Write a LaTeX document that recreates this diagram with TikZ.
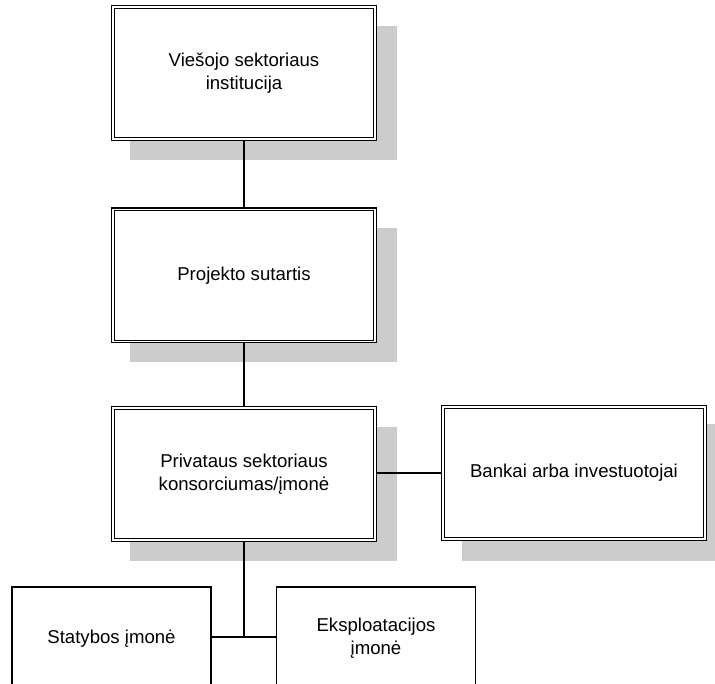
\documentclass[tikz,border=0pt]{standalone}
\usepackage{fontspec}
\setmainfont{Liberation Sans}
\begin{document}
\begin{tikzpicture}[x=1pt,y=-1pt,
  dbox/.style={draw=black, line width=1.2pt,
    fill=white, align=center, minimum width=264.8pt, minimum height=134.8pt,
    inner sep=0pt, font=\fontsize{18.6}{23}\selectfont},
  innerframe/.style={draw=black, line width=1.2pt},
  sbox/.style={draw=black, line width=1.1pt, fill=white, align=center,
    minimum width=199pt, minimum height=103pt, inner sep=0pt,
    font=\fontsize{18.6}{23}\selectfont},
  shadowbox/.style={fill=black!20, draw=none},
  conn/.style={draw=black, line width=1.2pt}]
\useasboundingbox (0,0) rectangle (715,684);
\begin{scope}
\clip (0,0) rectangle (715,684);
% shadows
\fill[shadowbox] (130,26) rectangle (397,160);
\fill[shadowbox] (130,228) rectangle (397,362);
\fill[shadowbox] (130,427) rectangle (397,561);
\fill[shadowbox] (462,424) rectangle (728,561);
% boxes
\node[dbox] (b1) at (244,73) {Viešojo sektoriaus\\institucija};
\node[dbox] (b2) at (244,275.5) {Projekto sutartis};
\node[dbox] (b3) at (244,474) {Privataus sektoriaus\\konsorciumas/įmonė};
\node[dbox] (b4) at (574,473) {Bankai arba investuotojai};
\foreach \n in {b1,b2,b3,b4}
  \draw[innerframe] ([shift={(3.2pt,-3.2pt)}]\n.north west) rectangle
                    ([shift={(-3.2pt,3.2pt)}]\n.south east);
\coordinate (j) at (244,637);
\node[sbox] (st) at (111.5,638.5) {Statybos įmonė};
\node[sbox] (ek) at (376,638.5) {Eksploatacijos\\įmonė};
% connectors
\draw[conn] (b1) -- (b2);
\draw[conn] (b2) -- (b3);
\draw[conn] (b3.east |- b4.west) -- (b4.west);
\draw[conn] (b3) -- (j);
\draw[conn] (st.east |- j) -- (ek.west |- j);
\end{scope}
\end{tikzpicture}
\end{document}
